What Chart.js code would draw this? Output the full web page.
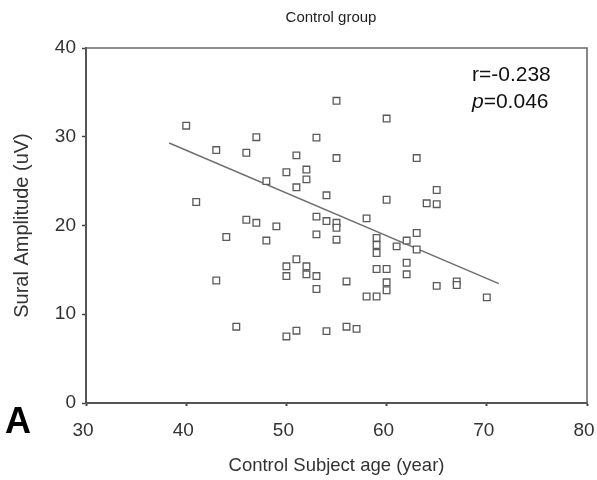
<!DOCTYPE html>
<html>
<head>
<meta charset="utf-8">
<script src="https://cdn.jsdelivr.net/npm/chart.js@4"></script>
<style>
html,body{margin:0;padding:0;background:#fff;}
#wrap{width:597px;height:480px;}
</style>
</head>
<body>
<div id="wrap"><canvas id="c" width="597" height="480"></canvas></div>
<script>
// ---- data ----
const chartTitle = "Control group";
const xTitle = "Control Subject age (year)";
const yTitle = "Sural Amplitude (uV)";
const xTicks = [30, 40, 50, 60, 70, 80];
const yTicks = [0, 10, 20, 30, 40];
const ages = [40, 41, 43, 43, 44, 45, 46, 46, 47, 47, 48, 48, 49, 50, 50, 50, 50,
  51, 51, 51, 51, 52, 52, 52, 52, 53, 53, 53, 53, 53, 54, 54, 54,
  55, 55, 55, 55, 55, 56, 56, 57, 58, 58, 59, 59, 59, 59, 59,
  60, 60, 60, 60, 60, 61, 62, 62, 62, 63, 63, 63, 65, 65, 64,
  65, 67, 67, 70];
const amplitudes = [31.25, 22.65, 28.5, 13.8, 18.7, 8.6, 28.2, 20.65, 29.95, 20.3, 25.0, 18.3, 19.9, 26.0, 15.4, 14.3, 7.5,
  27.9, 24.3, 16.2, 8.15, 26.3, 25.2, 15.4, 14.5, 29.9, 21.0, 19.0, 14.3, 12.85, 23.4, 20.5, 8.1,
  34.05, 27.6, 20.3, 19.75, 18.4, 13.7, 8.6, 8.35, 20.8, 12.0, 18.6, 17.8, 16.9, 15.1, 12.0,
  32.05, 22.9, 15.1, 13.6, 12.7, 17.65, 18.3, 15.8, 14.5, 27.6, 19.15, 17.3, 24.0, 22.4, 22.5,
  13.2, 13.7, 13.3, 11.9];
const fitX = [38.3, 71.2];
const fitY = [29.3, 13.45];
const statLines = [["r", "=-0.238"], ["p", "=0.046"]];
const panelLabel = "A";

// ---- build ----
const scatterPts = ages.map((a, i) => ({x: a, y: amplitudes[i]}));
const fitPts = fitX.map((a, i) => ({x: a, y: fitY[i]}));

const SANS = "'Liberation Sans',Arial,sans-serif";

const decor = {
  id: 'decor',
  afterDraw(chart) {
    const ctx = chart.ctx, a = chart.chartArea;
    ctx.save();
    // box top & right
    ctx.strokeStyle = '#6a6a6a';
    ctx.lineWidth = 1.6;
    ctx.beginPath();
    ctx.moveTo(a.left, a.top); ctx.lineTo(a.right, a.top); ctx.lineTo(a.right, a.bottom);
    ctx.stroke();
    // title
    ctx.fillStyle = '#222';
    ctx.font = "15px " + SANS;
    ctx.textAlign = 'center'; ctx.textBaseline = 'middle';
    ctx.fillText(chartTitle, 331, 18);
    // stats
    ctx.textAlign = 'left';
    ctx.fillStyle = '#111';
    const x0 = 472;
    statLines.forEach((ln, i) => {
      const y = 75 + i * 27;
      ctx.font = (ln[0] === 'p' ? "italic " : "") + "21px " + SANS;
      ctx.fillText(ln[0], x0, y);
      const w = ctx.measureText(ln[0]).width;
      ctx.font = "21px " + SANS;
      ctx.fillText(ln[1], x0 + w, y);
    });
    // panel label
    ctx.font = "bold 36px " + SANS;
    ctx.fillStyle = '#000';
    ctx.textAlign = 'left';
    ctx.textBaseline = 'alphabetic';
    ctx.fillText(panelLabel, 5, 433);
    ctx.restore();
  }
};

new Chart(document.getElementById('c'), {
  type: 'scatter',
  data: {
    datasets: [
      {
        type: 'line', data: fitPts, borderColor: '#707070', borderWidth: 1.6,
        pointRadius: 0, fill: false, tension: 0, order: 2
      },
      {
        data: scatterPts, pointStyle: 'rect', pointRadius: 4.7,
        pointBorderColor: '#5a5a5a', pointBackgroundColor: '#fff', pointBorderWidth: 1.3,
        order: 1
      }
    ]
  },
  options: {
    responsive: false, animation: false, events: [],
    layout: {padding: {top: 48, right: 10, left: 0, bottom: 0}},
    plugins: {legend: {display: false}, tooltip: {enabled: false}, title: {display: false}},
    scales: {
      x: {
        type: 'linear', min: 30, max: 80,
        afterFit: s => { s.height = 77; s.paddingRight = 0; s.paddingLeft = 0; },
        afterBuildTicks: s => { s.ticks = xTicks.map(v => ({value: v})); },
        grid: {display: true, drawOnChartArea: false, tickLength: 3, color: '#444', tickWidth: 2},
        border: {display: true, color: '#555', width: 2},
        ticks: {color: '#333', padding: 13, labelOffset: -3, font: {family: SANS, size: 19}},
        title: {display: true, text: xTitle, color: '#333', font: {family: SANS, size: 18.5}, padding: {top: 0, bottom: 3}}
      },
      y: {
        type: 'linear', min: 0, max: 40,
        afterFit: s => { s.width = 86; s.paddingTop = 0; s.paddingBottom = 0; },
        afterBuildTicks: s => { s.ticks = yTicks.map(v => ({value: v})); },
        grid: {display: true, drawOnChartArea: false, tickLength: 4, color: '#444', tickWidth: 1.5},
        border: {display: true, color: '#555', width: 2},
        ticks: {color: '#333', padding: 6, font: {family: SANS, size: 19}},
        title: {display: true, text: yTitle, color: '#333', font: {family: SANS, size: 20}, padding: {top: 10, bottom: 0}}
      }
    }
  },
  plugins: [decor]
});
</script>
</body>
</html>
